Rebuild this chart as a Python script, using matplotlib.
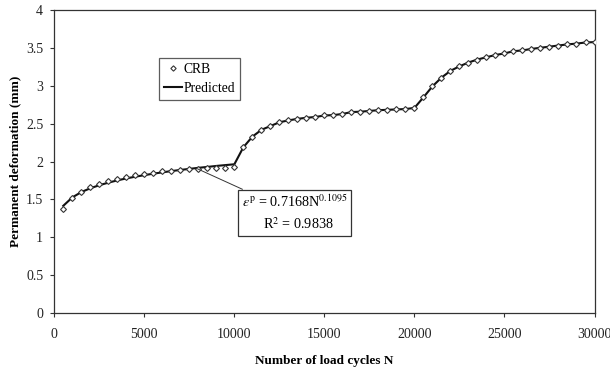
import matplotlib.pyplot as plt
import numpy as np

plt.rcParams['font.family'] = ['Liberation Serif', 'DejaVu Serif']
plt.rcParams['mathtext.fontset'] = 'stix'

# load cycles, every 500 cycles
cycles = list(range(500, 30001, 500))

# measured permanent deformation (mm), CRB
crb = [1.37, 1.52, 1.60, 1.66, 1.70, 1.74, 1.77, 1.80, 1.82, 1.84,
       1.85, 1.87, 1.88, 1.89, 1.90, 1.90, 1.91, 1.91, 1.92, 1.925,
       2.19, 2.33, 2.42, 2.47, 2.52, 2.545, 2.565, 2.58, 2.59, 2.61,
       2.615, 2.63, 2.655, 2.66, 2.67, 2.68, 2.685, 2.69, 2.69, 2.71,
       2.85, 2.995, 3.11, 3.20, 3.26, 3.31, 3.35, 3.38, 3.41, 3.43,
       3.46, 3.47, 3.49, 3.505, 3.52, 3.535, 3.55, 3.56, 3.575, 3.58]

# predicted deformation (mm)
predicted = [1.416, 1.527, 1.597, 1.648, 1.688, 1.722, 1.752, 1.778, 1.801, 1.821,
             1.841, 1.858, 1.875, 1.890, 1.904, 1.918, 1.930, 1.943, 1.954, 1.965,
             2.19, 2.33, 2.42, 2.47, 2.52, 2.545, 2.565, 2.58, 2.59, 2.61,
             2.615, 2.63, 2.655, 2.66, 2.67, 2.68, 2.685, 2.69, 2.695, 2.71,
             2.85, 2.995, 3.11, 3.20, 3.26, 3.31, 3.35, 3.38, 3.41, 3.43,
             3.46, 3.47, 3.49, 3.505, 3.52, 3.535, 3.55, 3.56, 3.575, 3.58]

fig = plt.figure(figsize=(6.1, 3.69), dpi=100)
ax = fig.add_axes([0.089, 0.152, 0.8856, 0.820])

ax.plot(cycles, crb, linestyle='none', marker='D', markersize=3.0,
        markerfacecolor='white', markeredgecolor='#333333', markeredgewidth=0.8,
        label='CRB', zorder=3)
ax.plot(cycles, predicted, color='#111111', linewidth=1.5, label='Predicted', zorder=2)

ax.set_xlim(0, 30000)
ax.set_ylim(0, 4)
ax.set_xticks(np.arange(0, 30001, 5000))
ax.set_yticks(np.arange(0, 4.01, 0.5))
ax.set_yticklabels(['0', '0.5', '1', '1.5', '2', '2.5', '3', '3.5', '4'])
ax.tick_params(labelsize=10, length=3, width=0.8, colors='#333333', labelcolor='#222222')
ax.tick_params(axis='x', pad=8)
ax.tick_params(axis='y', pad=5)
for sp in ax.spines.values():
    sp.set_color('#333333')
    sp.set_linewidth(0.9)

ax.set_xlabel('Number of load cycles N', fontsize=9.5, fontweight='bold', labelpad=10)
ax.set_ylabel('Permanent deformation (mm)', fontsize=9.5, fontweight='bold', labelpad=3)

leg = ax.legend(loc='upper left', bbox_to_anchor=(0.194, 0.842), fontsize=9.8,
                frameon=True, fancybox=False, handlelength=1.3, handletextpad=0.15,
                borderpad=0.35, labelspacing=0.45, borderaxespad=0, markerscale=0.9)
leg.get_frame().set_edgecolor('#333333')
leg.get_frame().set_linewidth(0.9)

ax.annotate('$\\varepsilon^{\\rm p}$ = 0.7168N$^{0.1095}$\n      R$^{2}$ = 0.9838',
            xy=(7950, 1.905), xytext=(10420, 1.32),
            fontsize=10.2, ha='left', va='center', linespacing=1.5,
            bbox=dict(boxstyle='square,pad=0.28', fc='white', ec='#333333', lw=0.9),
            arrowprops=dict(arrowstyle='-', color='#333333', lw=0.7,
                            shrinkA=0, shrinkB=0))

fig.savefig('out.png', dpi=100)
